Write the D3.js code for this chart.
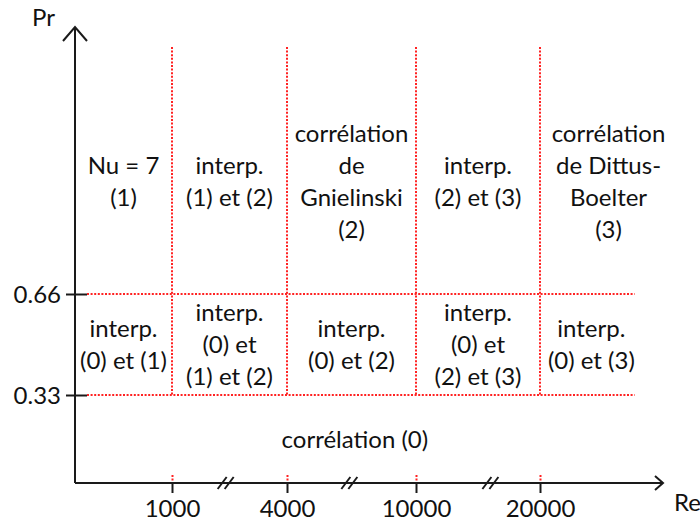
<!DOCTYPE html>
<html><head><meta charset="utf-8">
<script src="https://cdn.jsdelivr.net/npm/d3@7"></script>
<style>
html,body{margin:0;padding:0;background:#fff;}
text{font-family:Lato,"Open Sans",sans-serif;fill:#111;}
</style></head>
<body>
<svg id="c" width="700" height="524"></svg>
<script>
// ---- data ----
const reTicks = [1000, 4000, 10000, 20000];
const reTickLabels = ["1000", "4000", "10000", "20000"];
const prTicks = [0.33, 0.66];
const prTickLabels = ["0.33", "0.66"];
const reBreaks = [2400, 6900, 16000];
const reBounds = [0, 1000, 4000, 10000, 20000, 30000];
const topLabels = [
  ["Nu = 7", "(1)"],
  ["interp.", "(1) et (2)"],
  ["corrélation", "de", "Gnielinski", "(2)"],
  ["interp.", "(2) et (3)"],
  ["corrélation", "de Dittus-", "Boelter", "(3)"]
];
const midLabels = [
  ["interp.", "(0) et (1)"],
  ["interp.", "(0) et", "(1) et (2)"],
  ["interp.", "(0) et (2)"],
  ["interp.", "(0) et", "(2) et (3)"],
  ["interp.", "(0) et (3)"]
];
const bottomLabel = ["corrélation (0)"];
const midLineEnd = 27700;

// ---- scales ----
const x = d3.scaleLinear().domain([0, 1000, 4000, 10000, 20000, 30000]).range([75, 172, 287, 416, 540, 663]);
const y = d3.scaleLinear().domain([0, 0.33, 0.66, 1]).range([483, 395, 294, 47]);

const svg = d3.select("#c");
const red = "#f22";
const dash = "2 1.6";
const ink = "#1a1a1a";

// dotted grid: horizontal
svg.selectAll("line.h").data(prTicks).join("line")
  .attr("x1", x(0) + 12).attr("x2", x(midLineEnd))
  .attr("y1", d => y(d)).attr("y2", d => y(d))
  .attr("stroke", red).attr("stroke-width", 2).attr("stroke-dasharray", dash);
// vertical
svg.selectAll("line.v").data(reTicks).join("line")
  .attr("x1", d => x(d)).attr("x2", d => x(d))
  .attr("y1", y(1)).attr("y2", y(0.33))
  .attr("stroke", red).attr("stroke-width", 2).attr("stroke-dasharray", dash);

// x axis
const gx = svg.append("g").attr("transform", `translate(0,${y(0)})`)
  .call(d3.axisBottom(x).tickValues(reTicks).tickFormat((d, i) => reTickLabels[i]).tickSize(10).tickPadding(7));
gx.select(".domain").remove();
gx.selectAll(".tick line").attr("stroke", ink).attr("stroke-width", 2);
gx.selectAll(".tick").append("line").attr("y1", -8).attr("y2", 0)
  .attr("stroke", red).attr("stroke-width", 2).attr("stroke-dasharray", "2 1.6");
gx.selectAll(".tick text").attr("font-size", 24).attr("font-family", "Lato").attr("fill", "#111");

// y axis
const gy = svg.append("g").attr("transform", `translate(${x(0)},0)`)
  .call(d3.axisLeft(y).tickValues(prTicks).tickFormat((d, i) => prTickLabels[i]).tickSize(9).tickPadding(5));
gy.select(".domain").remove();
gy.selectAll(".tick line").attr("x1", 12).attr("stroke", ink).attr("stroke-width", 2);
gy.selectAll(".tick text").attr("font-size", 24).attr("font-family", "Lato").attr("fill", "#111").attr("dy", "0.35em");

// axis lines + arrows
svg.append("line").attr("x1", x(0)).attr("x2", x(0)).attr("y1", y(0)).attr("y2", y(1) - 20)
  .attr("stroke", ink).attr("stroke-width", 2);
svg.append("path").attr("d", `M${x(0)-12},${y(1)-6} L${x(0)},${y(1)-20} L${x(0)+12},${y(1)-6}`)
  .attr("fill", "none").attr("stroke", ink).attr("stroke-width", 2);
svg.append("line").attr("x1", x(0)).attr("x2", x(30000)).attr("y1", y(0)).attr("y2", y(0))
  .attr("stroke", ink).attr("stroke-width", 2);
svg.append("path").attr("d", `M${x(30000)-8},${y(0)-7} L${x(30000)},${y(0)} L${x(30000)-8},${y(0)+7}`)
  .attr("fill", "none").attr("stroke", ink).attr("stroke-width", 2);

// axis breaks
reBreaks.forEach(b => {
  [-3.5, 3.5].forEach(o => {
    svg.append("line").attr("x1", x(b) + o - 4.5).attr("y1", y(0) + 6)
      .attr("x2", x(b) + o + 4.5).attr("y2", y(0) - 6)
      .attr("stroke", ink).attr("stroke-width", 2);
  });
});

// axis titles
svg.append("text").attr("x", 32).attr("y", 26).attr("font-size", 24).text("Pr");
svg.append("text").attr("x", 674).attr("y", 511).attr("font-size", 24).text("Re");

// cell labels
const lh = 32;
function block(lines, cx, cy) {
  const t = svg.append("text").attr("text-anchor", "middle").attr("font-size", 24);
  const n = lines.length;
  lines.forEach((s, i) => {
    t.append("tspan").attr("x", cx).attr("y", cy + (i - (n - 1) / 2) * lh).attr("dy", "0.35em").text(s);
  });
}
topLabels.forEach((lines, i) => {
  const cx = (x(reBounds[i]) + x(reBounds[i + 1])) / 2 + (i === 4 ? 7 : 0);
  const cy = (y(0.66) + y(1)) / 2 + 11;
  block(lines, cx, cy);
});
midLabels.forEach((lines, i) => {
  const hi = i === 4 ? midLineEnd : reBounds[i + 1];
  const cx = (x(reBounds[i]) + x(hi)) / 2 + (i === 4 ? 4 : 0);
  const cy = (y(0.33) + y(0.66)) / 2;
  block(lines, cx, cy);
});
block(bottomLabel, (x(reBounds[0]) + x(midLineEnd)) / 2, (y(0) + y(0.33)) / 2 + 1);
</script>
</body></html>
